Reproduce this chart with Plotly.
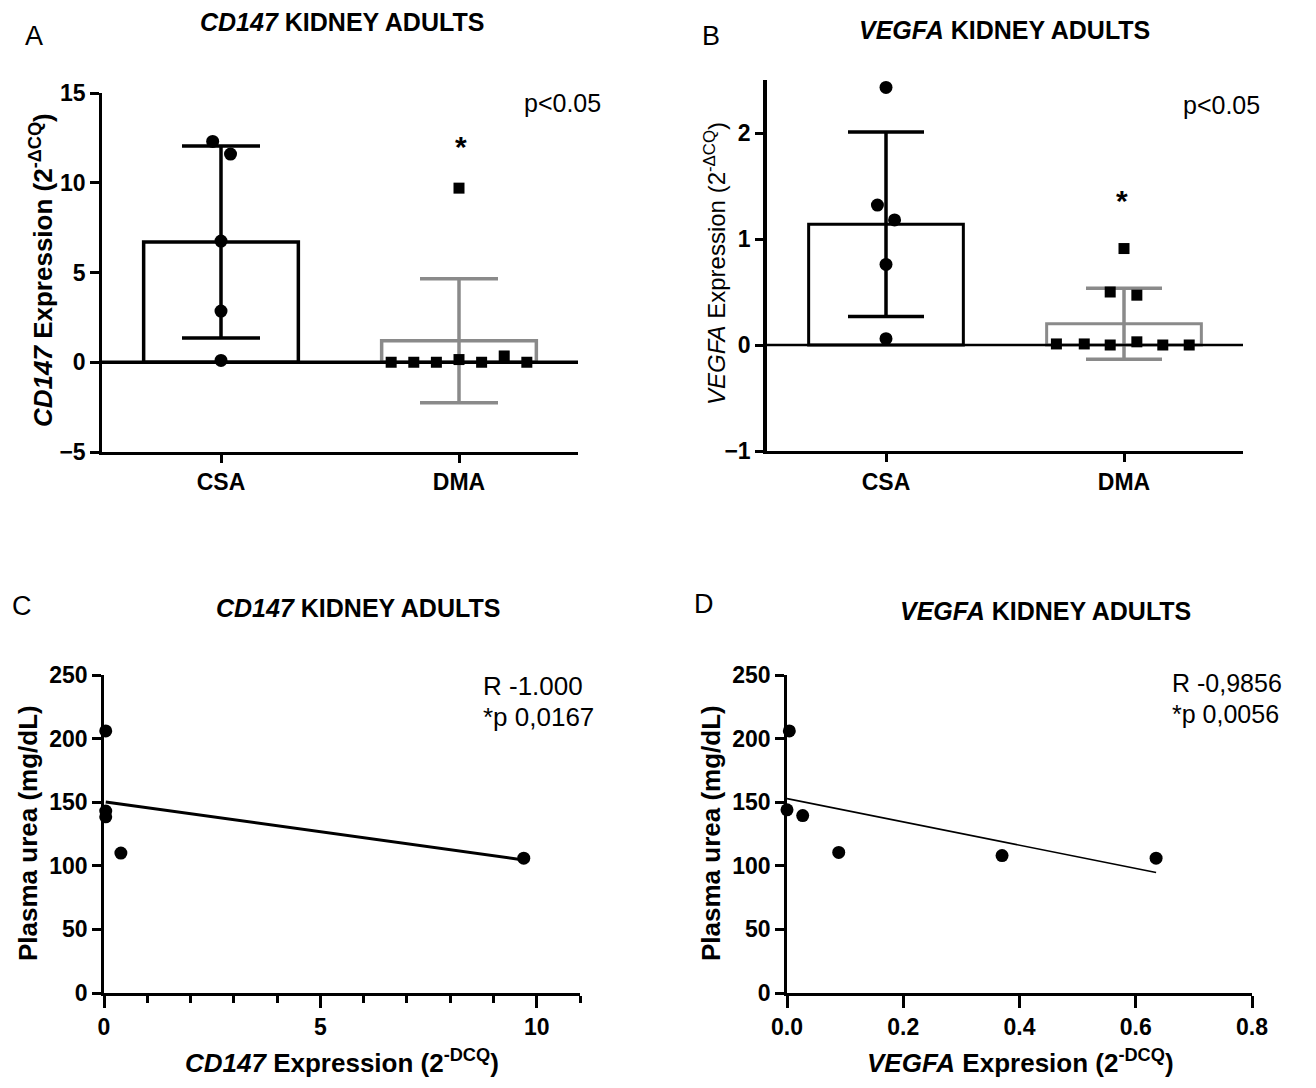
import numpy as np
import plotly.graph_objects as go

# ---------------- data ----------------
groups = ["CSA", "DMA"]

# Panel A: CD147 expression (2^-ΔCq)
cd147_mean = [6.7, 1.2]
cd147_sd = [5.35, 3.45]
cd147_csa = [12.3, 11.6, 6.75, 2.85, 0.1]
cd147_dma = [0.0, 0.0, 0.0, 0.15, 9.7, 0.0, 0.35, 0.0]

# Panel B: VEGFA expression (2^-ΔCq)
vegfa_mean = [1.14, 0.2]
vegfa_sd = [0.87, 0.335]
vegfa_csa = [2.43, 1.32, 1.18, 0.76, 0.06]
vegfa_dma = [0.01, 0.01, 0.0, 0.5, 0.91, 0.47, 0.03, 0.0, 0.0]

# Panel C: CD147 expression vs plasma urea
cd147_expr = [0.04, 0.04, 0.04, 0.39, 9.7]
urea_c = [206, 143, 138.5, 110, 106]

# Panel D: VEGFA expression vs plasma urea
vegfa_expr = [0.004, 0.0, 0.027, 0.089, 0.37, 0.635]
urea_d = [206, 144, 139.5, 110.5, 108, 106]

# ---------------- layout helpers (positions / styles) ----------------
# The page body has an 8 px margin, so the figure is 16 px smaller than the window
# and all window-pixel positions are shifted by 8 px.
WIN_W, WIN_H = 1316, 1088
OFF = 8
W, H = WIN_W - 2 * OFF, WIN_H - 2 * OFF
FONT = "Liberation Sans, Arial, sans-serif"
GRAY = "#8a8a8a"

# horizontal spread of dots inside each column (beeswarm layout)
spread_a_csa = [-0.035, 0.04, 0, 0, 0]
spread_a_dma = [-0.285, -0.19, -0.095, 0, 0, 0.095, 0.19, 0.285]
spread_b_csa = [0, -0.036, 0.036, 0, 0]
spread_b_dma = [-0.284, -0.167, -0.058, -0.058, 0, 0.054, 0.054, 0.163, 0.274]


def px_x(px):
    return (px - OFF) / W


def px_y(py):
    return 1 - (py - OFF) / H


def xd(px0, px1):
    return [px_x(px0), px_x(px1)]


def yd(py_bottom, py_top):
    return [px_y(py_bottom), px_y(py_top)]


fig = go.Figure()

# ---------------- Panel A ----------------
bar_colors = ["black", GRAY]
for i, g in enumerate(groups):
    fig.add_trace(go.Bar(
        x=[i], y=[cd147_mean[i]], width=0.65,
        marker=dict(color="white", line=dict(color=bar_colors[i], width=3.5)),
        error_y=dict(type="data", array=[cd147_sd[i]], color=bar_colors[i],
                     thickness=3.5, width=39),
        xaxis="x", yaxis="y", showlegend=False, name=g))
fig.add_trace(go.Scatter(
    x=[0 + d for d in spread_a_csa], y=cd147_csa, mode="markers",
    marker=dict(symbol="circle", size=13, color="black"),
    xaxis="x", yaxis="y", showlegend=False, cliponaxis=False))
fig.add_trace(go.Scatter(
    x=[1 + d for d in spread_a_dma], y=cd147_dma, mode="markers",
    marker=dict(symbol="square", size=11, color="black"),
    xaxis="x", yaxis="y", showlegend=False, cliponaxis=False))

# ---------------- Panel B ----------------
for i, g in enumerate(groups):
    fig.add_trace(go.Bar(
        x=[i], y=[vegfa_mean[i]], width=0.65,
        marker=dict(color="white", line=dict(color=bar_colors[i], width=3)),
        error_y=dict(type="data", array=[vegfa_sd[i]], color=bar_colors[i],
                     thickness=3.5, width=38),
        xaxis="x2", yaxis="y2", showlegend=False, name=g))
fig.add_trace(go.Scatter(
    x=[0 + d for d in spread_b_csa], y=vegfa_csa, mode="markers",
    marker=dict(symbol="circle", size=13, color="black"),
    xaxis="x2", yaxis="y2", showlegend=False, cliponaxis=False))
fig.add_trace(go.Scatter(
    x=[1 + d for d in spread_b_dma], y=vegfa_dma, mode="markers",
    marker=dict(symbol="square", size=11, color="black"),
    xaxis="x2", yaxis="y2", showlegend=False, cliponaxis=False))

# ---------------- Panel C ----------------
sc, ic = np.polyfit(cd147_expr, urea_c, 1)
xc_fit = [min(cd147_expr), max(cd147_expr)]
fig.add_trace(go.Scatter(
    x=xc_fit, y=[sc * v + ic for v in xc_fit], mode="lines",
    line=dict(color="black", width=3), xaxis="x3", yaxis="y3",
    showlegend=False, cliponaxis=False))
fig.add_trace(go.Scatter(
    x=cd147_expr, y=urea_c, mode="markers",
    marker=dict(symbol="circle", size=13, color="black"),
    xaxis="x3", yaxis="y3", showlegend=False, cliponaxis=False))

# ---------------- Panel D ----------------
sd_, id_ = np.polyfit(vegfa_expr, urea_d, 1)
xd_fit = [min(vegfa_expr), max(vegfa_expr)]
fig.add_trace(go.Scatter(
    x=xd_fit, y=[sd_ * v + id_ for v in xd_fit], mode="lines",
    line=dict(color="black", width=1.6), xaxis="x4", yaxis="y4",
    showlegend=False, cliponaxis=False))
fig.add_trace(go.Scatter(
    x=vegfa_expr, y=urea_d, mode="markers",
    marker=dict(symbol="circle", size=13, color="black"),
    xaxis="x4", yaxis="y4", showlegend=False, cliponaxis=False))

# ---------------- axes ----------------
tickfont = dict(family=FONT, size=23, color="black", weight="bold")
common = dict(showline=True, linecolor="black", showgrid=False, zeroline=False,
              ticks="outside", tickcolor="black", tickfont=tickfont, automargin=False)

fig.update_layout(
    xaxis=dict(domain=xd(102, 578), range=[-0.5, 1.5], tickvals=[0, 1], ticktext=groups,
               linewidth=2.5, ticklen=8, tickwidth=2.5, anchor="y", **common),
    yaxis=dict(domain=yd(452, 93), range=[-5, 15], tickvals=[-5, 0, 5, 10, 15],
               linewidth=2.5, ticklen=9, tickwidth=2.5, anchor="x", **common),
    xaxis2=dict(domain=xd(767, 1243), range=[-0.5, 1.5], tickvals=[0, 1], ticktext=groups,
                linewidth=3, ticklen=8, tickwidth=2.5, anchor="y2", **common),
    yaxis2=dict(domain=yd(451, 80), range=[-1, 2.5], tickvals=[-1, 0, 1, 2],
                linewidth=3.5, ticklen=8, tickwidth=2.5, anchor="x2", **common),
    xaxis3=dict(domain=xd(104, 580), range=[0, 11], tickvals=[0, 5, 10],
                linewidth=2.5, ticklen=12, tickwidth=2.5, anchor="y3",
                minor=dict(dtick=1, ticks="outside", ticklen=7, tickwidth=2.5,
                           tickcolor="black", showgrid=False), **common),
    yaxis3=dict(domain=yd(993, 675), range=[0, 250], tickvals=[0, 50, 100, 150, 200, 250],
                linewidth=2.5, ticklen=9, tickwidth=2.5, anchor="x3", **common),
    xaxis4=dict(domain=xd(787, 1252), range=[0, 0.8], tickvals=[0, 0.2, 0.4, 0.6, 0.8],
                tickformat=".1f", linewidth=2.5, ticklen=12, tickwidth=2.5, anchor="y4", **common),
    yaxis4=dict(domain=yd(993, 675), range=[0, 250], tickvals=[0, 50, 100, 150, 200, 250],
                linewidth=2.5, ticklen=9, tickwidth=2.5, anchor="x4", **common),
    barmode="overlay",
    width=W, height=H, autosize=False,
    margin=dict(l=0, r=0, t=0, b=0, pad=0, autoexpand=False),
    paper_bgcolor="white", plot_bgcolor="white",
    font=dict(family=FONT, color="black", size=16),
    showlegend=False,
)

# zero lines over the bars
fig.add_shape(type="line", xref="x domain", yref="y", x0=0, x1=1, y0=0, y1=0,
              line=dict(color="black", width=3.5), layer="above")
fig.add_shape(type="line", xref="x2 domain", yref="y2", x0=0, x1=1, y0=0, y1=0,
              line=dict(color="black", width=2.7), layer="above")

# ---------------- text ----------------
def ann(text, x, y, size, angle=0, xanchor="center"):
    fig.add_annotation(text=text, x=px_x(x), y=px_y(y), xref="paper", yref="paper",
                       showarrow=False, textangle=angle, xanchor=xanchor, yanchor="middle",
                       font=dict(family=FONT, size=size, color="black"))

# panel titles
ann("<b><i>CD147</i> KIDNEY ADULTS</b>", 342, 22, 25)
ann("<b><i>VEGFA</i> KIDNEY ADULTS</b>", 1004, 30, 25)
ann("<b><i>CD147</i> KIDNEY ADULTS</b>", 358, 608, 25)
ann("<b><i>VEGFA</i> KIDNEY ADULTS</b>", 1045, 611, 25)

# panel letters
ann("A", 34, 36, 27)
ann("B", 711, 36, 27)
ann("C", 22, 606, 27)
ann("D", 704, 604, 27)

# y-axis titles
ann("<b><i>CD147</i> Expression (2<sup>-ΔCQ</sup>)</b>", 41, 270, 26, angle=-90)
ann("<i>VEGFA</i> Expression (2<sup>-ΔCQ</sup>)", 715, 264, 24, angle=-90)
ann("<b>Plasma urea (mg/dL)</b>", 28, 833, 26, angle=-90)
ann("<b>Plasma urea (mg/dL)</b>", 711, 833, 26, angle=-90)

# x-axis titles
ann("<b><i>CD147</i> Expression (2<sup>-DCQ</sup>)</b>", 342, 1061, 26)
ann("<b><i>VEGFA</i> Expresion (2<sup>-DCQ</sup>)</b>", 1020, 1061, 26)

# statistics
ann("p<0.05", 562, 103, 25)
ann("p<0.05", 1221, 105, 25)
ann("<b>*</b>", 461, 146, 30)
ann("<b>*</b>", 1122, 201, 30)
ann("R -1.000", 481, 686, 26, xanchor="left")
ann("*p 0,0167", 481, 717, 26, xanchor="left")
ann("R -0,9856", 1170, 683, 25, xanchor="left")
ann("*p 0,0056", 1170, 714, 25, xanchor="left")

fig.write_html("out.html")
